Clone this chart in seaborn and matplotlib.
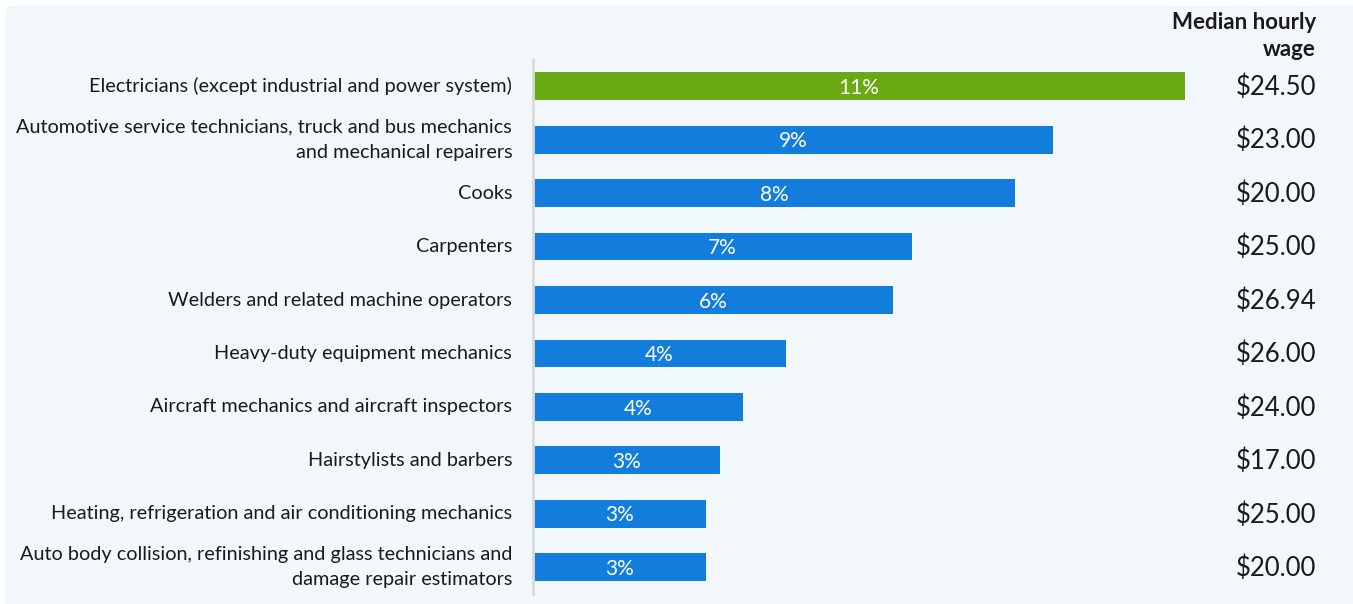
import matplotlib
matplotlib.use("Agg")
import matplotlib.pyplot as plt
from matplotlib.patches import Rectangle
import seaborn as sns
import pandas as pd

occupations = [
    "Electricians (except industrial and power system)",
    "Automotive service technicians, truck and bus mechanics\nand mechanical repairers",
    "Cooks",
    "Carpenters",
    "Welders and related machine operators",
    "Heavy-duty equipment mechanics",
    "Aircraft mechanics and aircraft inspectors",
    "Hairstylists and barbers",
    "Heating, refrigeration and air conditioning mechanics",
    "Auto body collision, refinishing and glass technicians and\ndamage repair estimators",
]
share_pct = [11.44, 9.12, 8.46, 6.65, 6.32, 4.44, 3.68, 3.28, 3.04, 3.04]
median_wage = [24.50, 23.00, 20.00, 25.00, 26.94, 26.00, 24.00, 17.00, 25.00, 20.00]
wage_header = "Median hourly\nwage"

GREEN = "#6aa913"
BLUE = "#127ddd"
PANEL = "#f2f7fc"
TEXT = "#1a1a1a"

df = pd.DataFrame({"occupation": occupations, "share": share_pct, "wage": median_wage})
palette = [GREEN] + [BLUE] * (len(occupations) - 1)

sns.set_theme(style="white")
plt.rcParams["font.family"] = ["Lato", "DejaVu Sans"]

W, H = 1353, 604
fig = plt.figure(figsize=(W / 100, H / 100), dpi=100)
fig.patch.set_facecolor("white")
fig.patches.append(Rectangle((6 / W, 0), 1 - 6 / W, 1 - 6 / H, transform=fig.transFigure,
                             facecolor=PANEL, edgecolor="none", zorder=-10))

ax_left, ax_right = 533, 1200
ax_top, ax_bottom = 59.5, 594
ax = fig.add_axes([ax_left / W, 1 - ax_bottom / H, (ax_right - ax_left) / W, (ax_bottom - ax_top) / H])
ax.set_facecolor("none")

sns.barplot(data=df, x="share", y="occupation", hue="occupation", palette=palette,
            legend=False, width=0.52, ax=ax, saturation=1, edgecolor="none")

px_per_unit = 57.0
ax.set_xlim(0, (ax_right - ax_left) / px_per_unit)
ax.set_ylim(len(occupations) - 0.5, -0.5)

for spine in ["top", "right", "bottom"]:
    ax.spines[spine].set_visible(False)
ax.spines["left"].set_color("#d9d9d9")
ax.spines["left"].set_linewidth(2)
ax.set_xticks([])
ax.set_xlabel("")
ax.set_ylabel("")
ax.tick_params(axis="y", length=0, pad=15)
ax.set_yticks(range(len(occupations)))
ax.set_yticklabels(occupations, fontsize=14.3, color=TEXT, ha="right", linespacing=1.6)
for lbl in ax.get_yticklabels():
    lbl.set_verticalalignment("center")

for i, v in enumerate(share_pct):
    ax.text(v / 2, i + 0.03, f"{round(v)}%", color="white", fontsize=15, ha="center",
            va="center")

wage_x = 1316 / W
trans = matplotlib.transforms.blended_transform_factory(fig.transFigure, ax.transData)
for i, w in enumerate(median_wage):
    ax.text(wage_x, i + 0.02, f"${w:,.2f}", transform=trans, fontsize=18.5, ha="right",
            va="center", color=TEXT)

fig.text(wage_x, 1 - 36 / H, wage_header, fontsize=16, fontweight="bold", ha="right",
         va="center", color=TEXT, linespacing=1.3)

fig.savefig("out.png", dpi=100, facecolor=fig.get_facecolor())
